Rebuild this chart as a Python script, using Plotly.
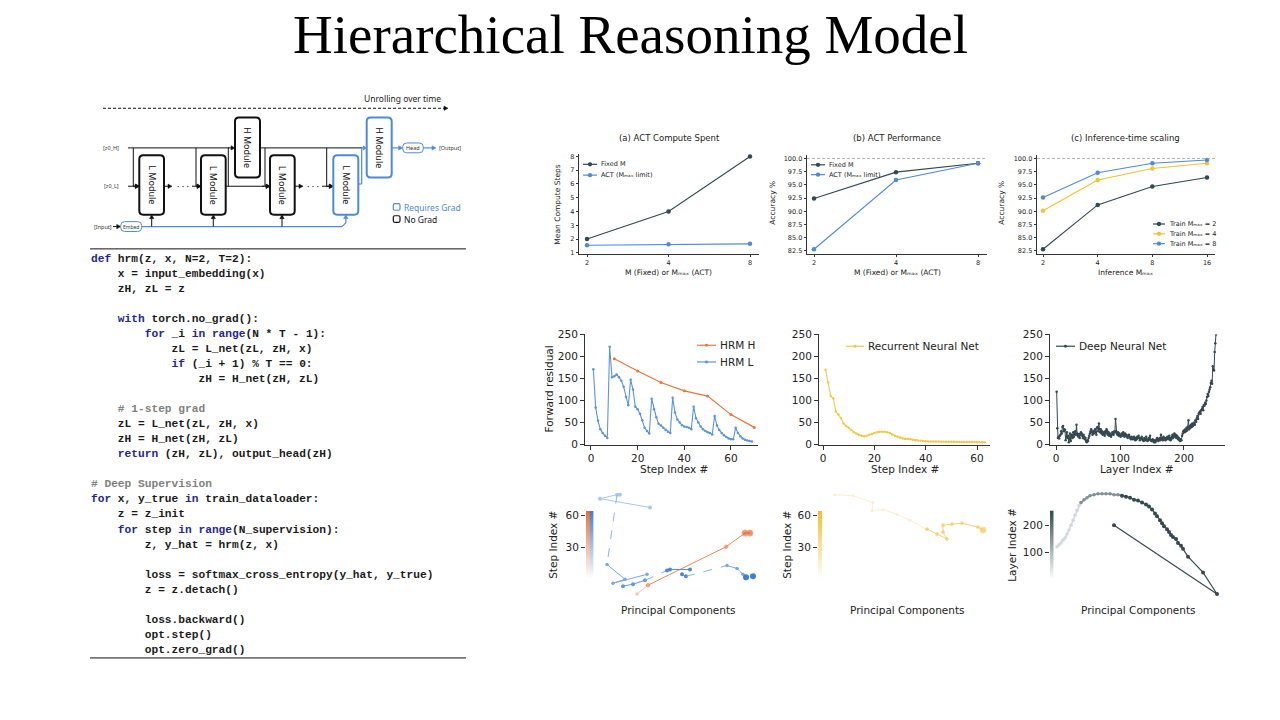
import re
import math
import plotly.graph_objects as go

W, H = 1280, 720
def X(p): return p / W
def Y(p): return 1 - p / H

# ======================= DATA =======================
# (a) ACT compute spent
act_m_values = [2, 4, 8]
act_fixed_steps = [2, 4, 8]
act_adaptive_steps = [1.55, 1.62, 1.65]
# (b) ACT performance
perf_m_values = [2, 4, 8]
perf_fixed_acc = [92.4, 97.4, 99.1]
perf_act_acc = [82.8, 95.9, 99.1]
# (c) inference-time scaling
inf_m_values = [2, 4, 8, 16]
inf_train2_acc = [82.8, 91.2, 94.7, 96.4]
inf_train4_acc = [90.1, 95.9, 98.1, 99.1]
inf_train8_acc = [92.6, 97.3, 99.1, 99.7]

# forward residuals
hrm_h_steps = [10, 20, 30, 40, 50, 60, 70]
hrm_h_res = [195, 167, 141, 122, 110, 68, 39]
hrm_l_res = [171, 84, 54, 35, 26, 20, 15, 222, 153, 155, 159, 153, 145, 131, 108, 89,
             147, 125, 86, 80, 70, 55, 38, 31, 25, 104, 80, 62, 47, 43, 38, 33, 29, 26,
             106, 73, 57, 50, 44, 41, 40, 38, 35, 86, 60, 50, 41, 35, 31, 28, 26, 23,
             65, 43, 33, 26, 21, 17, 14, 12, 12, 38, 26, 19, 14, 11, 9, 8, 7]
hrm_l_steps = list(range(1, len(hrm_l_res) + 1))
rnn_res = [170, 141, 110, 105, 75, 68, 60, 48, 42, 38,
           33, 28, 25, 22, 20, 19, 20, 22, 24, 26,
           28, 29, 29, 29, 28, 26, 23, 20, 18, 16,
           14, 13, 13, 12, 11, 10, 9, 8.5, 8, 7.5,
           7.2, 7, 7, 6.8, 6.8, 6.6, 6.5, 6.5, 6.4, 6.3,
           6.2, 6.1, 6, 5.9, 5.8, 5.8, 5.7, 5.6, 5.6, 5.5,
           5.5, 5.4, 5.4]
rnn_steps = list(range(1, len(rnn_res) + 1))
dnn_res = [120, 37, 15, 18, 14, 20, 22, 30, 25, 40,
           42, 30, 35, 33, 10, 18, 28, 15, 20, 5,
           12, 25, 8, 20, 22, 15, 28, 18, 25, 30,
           22, 45, 25, 20, 18, 24, 15, 22, 28, 25,
           20, 15, 22, 18, 12, 15, 8, 5, 10, 8,
           15, 20, 25, 30, 35, 28, 22, 30, 25, 30,
           35, 28, 22, 38, 40, 30, 48, 35, 28, 35,
           25, 30, 22, 28, 25, 20, 30, 25, 35, 30,
           22, 28, 20, 25, 20, 18, 22, 28, 25, 22,
           30, 28, 58, 30, 25, 22, 28, 20, 25, 20,
           18, 22, 25, 20, 28, 22, 18, 25, 20, 22,
           18, 15, 20, 22, 18, 15, 12, 18, 15, 12,
           15, 18, 12, 10, 15, 12, 18, 15, 20, 15,
           10, 12, 15, 18, 12, 10, 8, 15, 12, 10,
           18, 12, 8, 10, 15, 12, 20, 10, 8, 10,
           12, 8, 5, 10, 5, 8, 12, 15, 10, 8,
           12, 15, 10, 22, 12, 15, 10, 18, 15, 12,
           10, 15, 12, 18, 15, 12, 20, 15, 10, 12,
           18, 22, 15, 20, 25, 18, 22, 15, 20, 18,
           12, 15, 10, 8, 12, 10, 20, 25, 30, 32,
           28, 35, 30, 38, 32, 40, 55, 35, 42, 38,
           45, 40, 48, 42, 45, 50, 45, 55, 52, 60,
           65, 58, 70, 72, 75, 70, 78, 80, 85, 78,
           90, 88, 95, 92, 100, 108, 115, 110, 120, 125,
           130, 140, 145, 138, 178, 170, 168, 210, 230, 250]
dnn_layers = list(range(1, len(dnn_res) + 1))

# principal-component trajectories (arbitrary PC units)
hrm_h_pc1 = [42, 53, 131, 150, 155]
hrm_h_pc2 = [7, 16, 55, 69, 69]
hrm_l_seg_pc1 = [[55, 5, 22, 25], [22, 12], [12, 30, 18, 52], [28, 38, 50], [50, 72],
                 [72, 75, 95], [87, 91], [91, 132], [132, 142, 148], [151, 158]]
hrm_l_seg_pc2 = [[95, 104, 108, 108], [108, 37], [37, 22, 18, 27], [15, 17, 21], [21, 31],
                 [31, 32, 32], [27, 25], [25, 36], [36, 33, 27], [24, 25]]
rnn_pc1 = [5, 23, 43, 42, 53, 67, 80, 97, 107, 117, 113, 113, 122, 132, 148, 153]
rnn_pc2 = [108, 107, 100, 92, 93, 88, 82, 73, 68, 63, 70, 77, 78, 79, 75, 72]
dnn_pc1 = [2, 4, 6, 8, 10, 12, 14, 16, 18, 20, 22, 24, 26, 29, 32, 35, 39, 43, 47, 51,
           55, 59, 63, 67, 71, 75, 79, 83, 87, 91, 94, 97, 100, 102, 105, 107, 109, 112,
           114, 116, 118, 121, 123, 126, 128, 133, 148, 162, 59]
dnn_pc2 = [55, 57, 59, 62, 64, 68, 72, 77, 82, 87, 92, 97, 100, 103, 105, 107, 108, 109,
           109, 109, 109, 108, 108, 107, 106, 105, 103, 102, 100, 98, 96, 93, 89, 86, 82,
           79, 76, 73, 70, 67, 65, 63, 59, 56, 53, 45, 29, 7, 77]
cb_steps = list(range(0, 65))
cb_layers = list(range(0, 256, 2))

code_lines = [
    "def hrm(z, x, N=2, T=2):",
    "    x = input_embedding(x)",
    "    zH, zL = z",
    "",
    "    with torch.no_grad():",
    "        for _i in range(N * T - 1):",
    "            zL = L_net(zL, zH, x)",
    "            if (_i + 1) % T == 0:",
    "                zH = H_net(zH, zL)",
    "",
    "    # 1-step grad",
    "    zL = L_net(zL, zH, x)",
    "    zH = H_net(zH, zL)",
    "    return (zH, zL), output_head(zH)",
    "",
    "# Deep Supervision",
    "for x, y_true in train_dataloader:",
    "    z = z_init",
    "    for step in range(N_supervision):",
    "        z, y_hat = hrm(z, x)",
    "",
    "        loss = softmax_cross_entropy(y_hat, y_true)",
    "        z = z.detach()",
    "",
    "        loss.backward()",
    "        opt.step()",
    "        opt.zero_grad()",
]

# ======================= STYLE =======================
C_DARK = '#2f4a50'
C_BLUE = '#4f8ad8'
C_YEL = '#f2c230'
C_ORANGE = '#e8763f'
C_BLUE_L = '#5a94dc'
C_RNN = '#f2c84a'
C_DNN = '#34494f'
C_AX = '#333333'
FONT = 'DejaVu Sans'
DFONT = 'Noto Sans'
MMAX = 'M\u2098\u2090\u2093'

fig = go.Figure()
shapes, annotations = [], []

def text(x, y, s, size, color='#222', family=FONT, xanchor='center', yanchor='middle', angle=0):
    annotations.append(dict(x=X(x), y=Y(y), xref='paper', yref='paper', text=s, showarrow=False,
                            font=dict(size=size, color=color, family=family),
                            xanchor=xanchor, yanchor=yanchor, textangle=angle))

def line(x0, y0, x1, y1, color='#111', width=1, dash='solid'):
    shapes.append(dict(type='line', xref='paper', yref='paper', x0=X(x0), y0=Y(y0), x1=X(x1), y1=Y(y1),
                       line=dict(color=color, width=width, dash=dash)))

def arrow(x0, y0, x1, y1, color='#111', width=1, hl=4.0, hw=2.2, dash='solid'):
    dx, dy = x1 - x0, y1 - y0
    L = math.hypot(dx, dy)
    ux, uy = dx / L, dy / L
    bx, by = x1 - ux * hl, y1 - uy * hl
    nx, ny = -uy, ux
    line(x0, y0, bx, by, color, width, dash)
    p = (f"M {X(x1)},{Y(y1)} L {X(bx + nx * hw)},{Y(by + ny * hw)} "
         f"L {X(bx - nx * hw)},{Y(by - ny * hw)} Z")
    shapes.append(dict(type='path', xref='paper', yref='paper', path=p, fillcolor=color,
                       line=dict(color=color, width=0.5)))

def rrect(x0, y0, x1, y1, r, color, width):
    p = (f"M {X(x0+r)},{Y(y0)} L {X(x1-r)},{Y(y0)} Q {X(x1)},{Y(y0)} {X(x1)},{Y(y0+r)} "
         f"L {X(x1)},{Y(y1-r)} Q {X(x1)},{Y(y1)} {X(x1-r)},{Y(y1)} L {X(x0+r)},{Y(y1)} "
         f"Q {X(x0)},{Y(y1)} {X(x0)},{Y(y1-r)} L {X(x0)},{Y(y0+r)} Q {X(x0)},{Y(y0)} {X(x0+r)},{Y(y0)} Z")
    shapes.append(dict(type='path', xref='paper', yref='paper', path=p,
                       line=dict(color=color, width=width), fillcolor='white'))

def dot(x, y, r, color):
    shapes.append(dict(type='circle', xref='paper', yref='paper', x0=X(x-r), x1=X(x+r),
                       y0=Y(y+r), y1=Y(y-r), fillcolor=color, line=dict(color=color, width=0)))

def legend_item(sx0, sx1, y, color, label, size, r=2.2, lw=1.2):
    line(sx0, y, sx1, y, color, lw)
    dot((sx0 + sx1) / 2, y, r, color)
    text(sx1 + 2, y, label, size, '#222', xanchor='left')

# ---------------- title ----------------
text(630, 29, 'Hierarchical Reasoning Model', 55, '#000', 'Liberation Serif')

# ---------------- diagram ----------------
text(402, 94, 'Unrolling over time', 8.5, '#222', DFONT)
arrow(103, 104, 448, 104, '#111', 1, dash='3px,2px')

text(111, 144.3, '[z0_H]', 5.5, '#333', DFONT)
text(111, 183.3, '[z0_L]', 5.5, '#333', DFONT)
text(103, 224.3, '[Input]', 5.5, '#333', DFONT)
# z_H rail
line(128, 144.3, 229, 144.3)
arrow(228, 144.3, 235, 144.3)
line(260, 144.3, 362, 144.3)
for vx, bx in [(133.3, 139.3), (196, 201), (265, 270), (326.7, 333.3)]:
    line(vx, 144.3, vx, 183.3)
    arrow(vx, 183.3, bx, 183.3)
arrow(128, 183.3, 139.3, 183.3)
# L chain
arrow(164, 183.3, 172, 183.3)
text(183, 183.3, '·\u00a0·\u00a0·', 9, '#111', DFONT)
arrow(192, 183.3, 201, 183.3)
line(225.7, 183.3, 264, 183.3)
arrow(262, 183.3, 270, 183.3)
line(228.3, 144.3, 228.3, 183.3)
arrow(294.3, 183.3, 303, 183.3)
text(313, 183.3, '·\u00a0·\u00a0·', 9, '#111', DFONT)
arrow(322, 183.3, 333.3, 183.3)
# input embedding rail
arrow(113, 224.3, 120.7, 224.3)
line(141.7, 224.3, 342, 224.3, C_BLUE, 1.2)
line(342, 224.3, 345.8, 220.5, C_BLUE, 1.2)
arrow(345.8, 221, 345.8, 212.3, C_BLUE, 1.2)
for bx in [151.7, 213.3, 282]:
    arrow(bx, 224.3, bx, 212.3)
# blue outputs
line(358.3, 181, 361.7, 181, C_BLUE, 1.2)
line(361.7, 181, 361.7, 144.3, C_BLUE, 1.2)
arrow(361.7, 144.3, 366.7, 144.3, C_BLUE, 1.2, hl=3.5)
arrow(391.7, 144.3, 402.7, 144.3, C_BLUE, 1.2)
arrow(423.3, 144.3, 436, 144.3, C_BLUE, 1.2)
text(437, 144.3, '[Output]', 5.5, '#333', DFONT, xanchor='left')
# boxes
for bx0 in [139.3, 201, 270]:
    rrect(bx0, 151.7, bx0 + 24.7, 212.3, 4, '#111', 2)
rrect(333.3, 151.7, 358.3, 212.3, 4, C_BLUE, 2)
rrect(235, 113.3, 260, 174.3, 4, '#111', 2)
rrect(366.7, 113.3, 391.7, 174.3, 4, C_BLUE, 2)
rrect(402.7, 139.3, 423.3, 149.3, 4, C_BLUE, 1)
rrect(120.7, 219.3, 141.7, 229.3, 4, C_BLUE, 1)
for cx in [151.7, 213.3, 282.2, 345.8]:
    text(cx, 182, 'L Module', 9, '#111', DFONT, angle=90)
for cx in [247.5, 379.2]:
    text(cx, 143.8, 'H Module', 9, '#111', DFONT, angle=90)
text(413, 144.3, 'Head', 5.5, '#333', DFONT)
text(131.2, 224.3, 'Embed', 5, '#333', DFONT)
rrect(393.3, 201, 400, 207.7, 1.5, C_BLUE, 1.2)
rrect(393.3, 213.3, 400, 220, 1.5, '#111', 1.2)
text(402, 204.5, 'Requires Grad', 8.5, C_BLUE, DFONT, xanchor='left')
text(402, 216.7, 'No Grad', 8.5, '#111', DFONT, xanchor='left')

# ---------------- code ----------------
line(90, 247, 466, 247, '#111', 1)
line(90, 663, 466, 663, '#111', 1)
KW = r'\b(def|with|for|in|if|return|range)\b'
for i, src in enumerate(code_lines):
    if not src.strip():
        continue
    s = src.replace(' ', '\u00a0')
    if src.strip().startswith('#'):
        s = f"<span style='color:#808080'>{s}</span>"
    else:
        s = re.sub(KW, lambda m: f"<span style='color:#23239a'>{m.group(1)}</span>", s)
    text(89, 257 + 15.3 * i, f"<b>{s}</b>", 11.2, '#1a1a1a', 'Liberation Mono', xanchor='left')

# ---------------- axes ----------------
layout_axes = {}
def add_axes(i, xdom, ydom, xrange, yrange, xtype='linear', small=True, visible=True, **kw):
    s = '' if i == 1 else str(i)
    common = dict(showgrid=False, zeroline=False, showline=True, linecolor=C_AX,
                  linewidth=0.8 if small else 1, ticks='outside', ticklen=2.5 if small else 4,
                  tickwidth=0.8 if small else 1, tickcolor=C_AX,
                  tickfont=dict(size=6.5 if small else 10.5, color='#222', family=FONT),
                  fixedrange=True, visible=visible)
    xa = dict(common, domain=[X(xdom[0]), X(xdom[1])], range=xrange, type=xtype, anchor='y' + s)
    ya = dict(common, domain=[Y(ydom[1]), Y(ydom[0])], range=yrange, anchor='x' + s)
    xa.update(kw.get('xk', {}))
    ya.update(kw.get('yk', {}))
    layout_axes['xaxis' + s] = xa
    layout_axes['yaxis' + s] = ya

add_axes(1, (579, 759), (150, 252), [0.2714, 0.9363], [0.929, 8.214], 'log',
         xk=dict(tickvals=act_m_values, ticktext=[str(v) for v in act_m_values]),
         yk=dict(tickvals=[1, 2, 3, 4, 5, 6, 7, 8]))
accy = dict(tickvals=[82.5, 85, 87.5, 90, 92.5, 95, 97.5, 100], tickformat='.1f')
add_axes(2, (807, 987), (152, 252), [0.2753, 0.936], [81.94, 100.56], 'log',
         xk=dict(tickvals=perf_m_values, ticktext=[str(v) for v in perf_m_values]), yk=accy)
add_axes(3, (1037, 1215), (152, 252), [0.268, 1.248], [81.94, 100.56], 'log',
         xk=dict(tickvals=inf_m_values, ticktext=[str(v) for v in inf_m_values]), yk=accy)
resy = dict(tickvals=[0, 50, 100, 150, 200, 250])
add_axes(4, (585, 758), (334, 446), [-2.57, 71.6], [0, 250], small=False,
         xk=dict(tickvals=[0, 20, 40, 60]), yk=resy)
add_axes(5, (819, 990), (334, 446), [-1.56, 65.06], [0, 250], small=False,
         xk=dict(tickvals=[0, 20, 40, 60]), yk=resy)
add_axes(6, (1050, 1225), (334, 446), [-9.4, 264.1], [0, 250], small=False,
         xk=dict(tickvals=[0, 100, 200]), yk=resy)
add_axes(7, (595, 765), (490, 605), [0, 170], [0, 115], visible=False)
add_axes(8, (830, 1000), (490, 605), [0, 170], [0, 115], visible=False)
add_axes(9, (1055, 1225), (490, 605), [0, 170], [0, 115], visible=False)
cby = dict(showline=False, tickfont=dict(size=10.5, color='#222', family=FONT), ticklen=4)
add_axes(10, (586, 593.5), (513.6, 583), [-0.5, 1.5], [0, 64], small=False,
         xk=dict(visible=False), yk=dict(cby, tickvals=[30, 60]))
add_axes(11, (818, 822), (513.6, 583), [-0.5, 0.5], [0, 64], small=False,
         xk=dict(visible=False), yk=dict(cby, tickvals=[30, 60]))
add_axes(12, (1050, 1053.5), (513, 583), [-0.5, 0.5], [0, 255], small=False,
         xk=dict(visible=False), yk=dict(cby, tickvals=[100, 200]))

def sc(x, y, ax, color, lw=1.1, ms=4.5, **kw):
    s = '' if ax == 1 else str(ax)
    return go.Scatter(x=x, y=y, mode=kw.pop('mode', 'lines+markers'), xaxis='x' + s, yaxis='y' + s,
                      line=dict(color=color, width=lw, dash=kw.pop('dash', 'solid')),
                      marker=kw.pop('marker', dict(size=ms, color=color)), showlegend=False,
                      hoverinfo='skip', **kw)

# top row
fig.add_trace(sc(act_m_values, act_fixed_steps, 1, C_DARK))
fig.add_trace(sc(act_m_values, act_adaptive_steps, 1, C_BLUE))
fig.add_trace(sc(perf_m_values, perf_fixed_acc, 2, C_DARK))
fig.add_trace(sc(perf_m_values, perf_act_acc, 2, C_BLUE))
fig.add_trace(sc(inf_m_values, inf_train2_acc, 3, C_DARK))
fig.add_trace(sc(inf_m_values, inf_train4_acc, 3, C_YEL))
fig.add_trace(sc(inf_m_values, inf_train8_acc, 3, C_BLUE))
for a in ['x2', 'x3']:
    shapes.append(dict(type='line', xref=a + ' domain', yref='y' + a[1:], x0=0, x1=1, y0=100, y1=100,
                       line=dict(color='#999', width=0.8, dash='3px,2px')))

text(669, 134, '(a) ACT Compute Spent', 8.5)
text(897, 134, '(b) ACT Performance', 8.5)
text(1125, 134, '(c) Inference-time scaling', 8.5)
text(558, 202, 'Mean Compute Steps', 7.5, angle=-90)
text(773, 200, 'Accuracy %', 7.5, angle=-90)
text(1002, 200, 'Accuracy %', 7.5, angle=-90)
text(668, 271, f'M (Fixed) or {MMAX} (ACT)', 7.5)
text(897, 271, f'M (Fixed) or {MMAX} (ACT)', 7.5)
text(1125, 271, f'Inference {MMAX}', 7.5)
legend_item(583, 597, 161, C_DARK, 'Fixed M', 6.5)
legend_item(583, 597, 172, C_BLUE, f'ACT ({MMAX} limit)', 6.5)
legend_item(811, 825, 161.5, C_DARK, 'Fixed M', 6.5)
legend_item(811, 825, 171.5, C_BLUE, f'ACT ({MMAX} limit)', 6.5)
legend_item(1153, 1165, 221.7, C_DARK, f'Train {MMAX} = 2', 6.5)
legend_item(1153, 1165, 231.7, C_YEL, f'Train {MMAX} = 4', 6.5)
legend_item(1153, 1165, 241.7, C_BLUE, f'Train {MMAX} = 8', 6.5)

# middle row
fig.add_trace(sc(hrm_l_steps, hrm_l_res, 4, C_BLUE_L, 1.1, 2.5))
fig.add_trace(sc(hrm_h_steps, hrm_h_res, 4, C_ORANGE, 1.2, 3))
fig.add_trace(sc(rnn_steps, rnn_res, 5, C_RNN, 1.1, 2.5))
fig.add_trace(sc(dnn_layers, dnn_res, 6, C_DNN, 1.0, 2.5))
text(548, 390, 'Forward residual', 10.5, angle=-90)
text(674, 471, 'Step Index #', 10.5)
text(905, 471, 'Step Index #', 10.5)
text(1137, 471, 'Layer Index #', 10.5)
legend_item(697, 716, 345, C_ORANGE, 'HRM H', 10.5, r=1.5)
legend_item(697, 716, 362, C_BLUE_L, 'HRM L', 10.5, r=1.5)
legend_item(846, 864, 346, C_RNN, 'Recurrent Neural Net', 10.5, r=1.5)
legend_item(1056, 1075, 346, C_DNN, 'Deep Neural Net', 10.5, r=1.5)

# bottom row: trajectories
fig.add_trace(sc(hrm_h_pc1[:2], hrm_h_pc2[:2], 7, '#f6c4a8', 1.0, 3.5))
fig.add_trace(sc(hrm_h_pc1[1:], hrm_h_pc2[1:], 7, '#ec8a56', 1.0,
                 marker=dict(size=[3.5, 3.5, 6, 6], color=['#f0a070', '#ec8a56', '#e8622a', '#e8622a'])))
seg_colors = ['#a9c7ee', '#8ab4ea', '#7aa8e6', '#5f97e0', '#8ab4ea', '#4b88da', '#4b88da',
              '#8ab4ea', '#7aa8e6', '#3d7fd8']
seg_dash = ['solid', 'dash', 'solid', 'solid', 'dash', 'solid', 'solid', 'dash', 'solid', 'solid']
seg_ms = [4, 0, 3.5, 4, 0, 4, 4, 0, 3.5, 6]
for k in range(len(hrm_l_seg_pc1)):
    mode = 'markers' if k == len(hrm_l_seg_pc1) - 1 else ('lines' if seg_ms[k] == 0 else 'lines+markers')
    fig.add_trace(sc(hrm_l_seg_pc1[k], hrm_l_seg_pc2[k], 7, seg_colors[k], 1.0, seg_ms[k],
                     dash=seg_dash[k], mode=mode))
fig.add_trace(sc(rnn_pc1[:8], rnn_pc2[:8], 8, '#fbefcf', 1.0, 3))
fig.add_trace(sc(rnn_pc1[7:], rnn_pc2[7:], 8, '#f4d274', 1.0,
                 marker=dict(size=[3] * 8 + [6], color='#f2c84a')))
fig.add_trace(sc(dnn_pc1[:13], dnn_pc2[:13], 9, '#d3d9db', 1.6, 3.5))
fig.add_trace(sc(dnn_pc1[12:24], dnn_pc2[12:24], 9, '#7f9196', 1.6, 3.5))
fig.add_trace(sc(dnn_pc1[23:], dnn_pc2[23:], 9, C_DNN, 1.2, 4))
# colorbars
fig.add_trace(go.Heatmap(z=[[s] for s in cb_steps], x=[0], y=cb_steps, xaxis='x10', yaxis='y10',
                         colorscale=[[0, 'rgba(255,255,255,1)'], [1, '#e8703a']], showscale=False,
                         hoverinfo='skip'))
fig.add_trace(go.Heatmap(z=[[s] for s in cb_steps], x=[1], y=cb_steps, xaxis='x10', yaxis='y10',
                         colorscale=[[0, 'rgba(255,255,255,1)'], [1, '#3f7fd0']], showscale=False,
                         hoverinfo='skip'))
fig.add_trace(go.Heatmap(z=[[s] for s in cb_steps], x=[0], y=cb_steps, xaxis='x11', yaxis='y11',
                         colorscale=[[0, 'rgba(255,255,255,1)'], [1, '#efc030']], showscale=False,
                         hoverinfo='skip'))
fig.add_trace(go.Heatmap(z=[[s] for s in cb_layers], x=[0], y=cb_layers, xaxis='x12', yaxis='y12',
                         colorscale=[[0, 'rgba(255,255,255,1)'], [1, '#2f4b52']], showscale=False,
                         hoverinfo='skip'))
text(553, 548, 'Step Index #', 10.5, angle=-90)
text(787, 548, 'Step Index #', 10.5, angle=-90)
text(1012, 548, 'Layer Index #', 10.5, angle=-90)
text(678, 614, 'Principal Components', 10.5)
text(907, 614, 'Principal Components', 10.5)
text(1138, 614, 'Principal Components', 10.5)

fig.update_layout(width=W, height=H, margin=dict(l=0, r=0, t=0, b=0), paper_bgcolor='white',
                  plot_bgcolor='rgba(0,0,0,0)', showlegend=False, shapes=shapes,
                  annotations=annotations, **layout_axes)
fig.write_html("out.html")
